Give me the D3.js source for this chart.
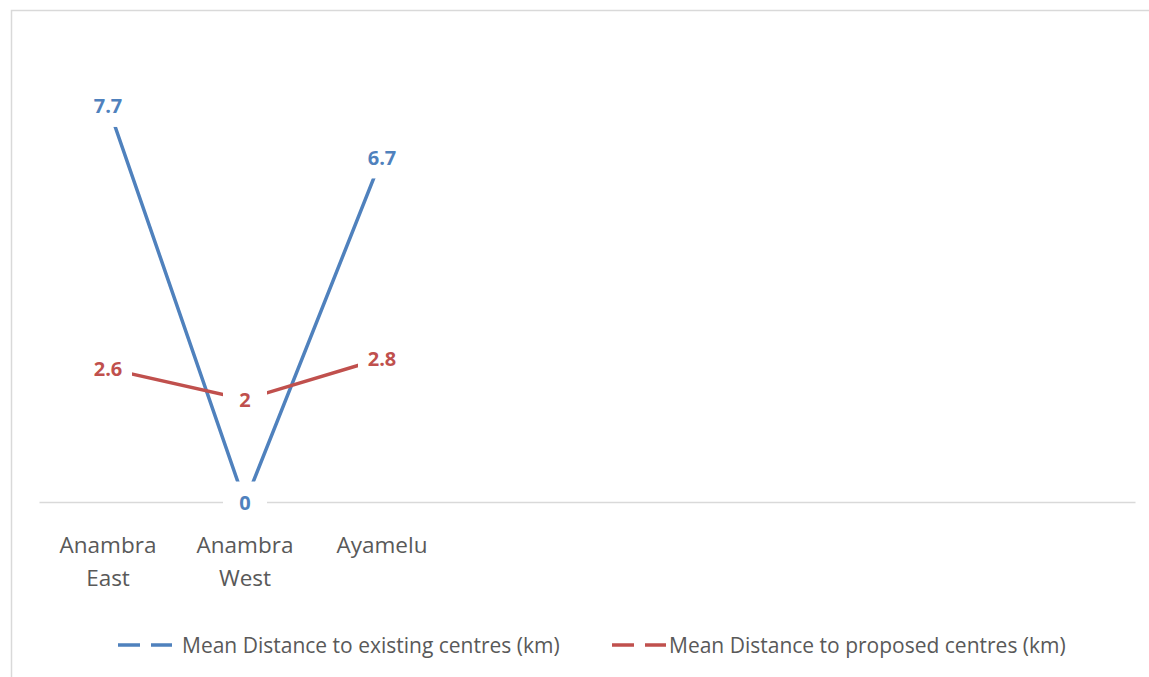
<!DOCTYPE html>
<html>
  <head>
    <meta charset="utf-8">
    <title>Mean distance line chart</title>
    <script src="https://d3js.org/d3.v7.min.js"></script>
    <style>
      body { margin: 0; background: #fff; }
      text { font-family: "Open Sans", sans-serif; }
    </style>
  </head>
  <body>
    <div id="chart"></div>
    <script type="text/javascript">
      // data
      var categories = ["Anambra East", "Anambra West", "Ayamelu", "", "", "", "", ""];
      var existing = [7.7, 0, 6.7];
      var proposed = [2.6, 2, 2.8];
      var seriesNames = ["Mean Distance to existing centres (km)", "Mean Distance to proposed centres (km)"];

      var width = 1149,
          height = 677;

      var svg = d3.select('#chart').append('svg')
          .attr('width', width)
          .attr('height', height);

      // chart frame (cut off at right and bottom like the source)
      svg.append('rect')
          .attr('x', 11.5).attr('y', 10.5)
          .attr('width', 1160).attr('height', 700)
          .attr('fill', 'none')
          .attr('stroke', '#d9d9d9')
          .attr('stroke-width', 1.5);

      var x = d3.scalePoint()
          .domain(d3.range(categories.length))
          .range([39.5, 1135.5])
          .padding(0.5);

      var y = d3.scaleLinear()
          .domain([0, 9])
          .range([502.5, 39]);

      // category axis
      svg.append('line')
          .attr('x1', 39.5).attr('x2', 1135.5)
          .attr('y1', 502.5).attr('y2', 502.5)
          .attr('stroke', '#d9d9d9')
          .attr('stroke-width', 1.5);

      svg.append('g').selectAll('text')
          .data(categories)
          .enter().append('text')
          .attr('text-anchor', 'middle')
          .attr('fill', '#595959')
          .style('font-size', '22.5px')
          .each(function(d, i) {
            var words = d.split(' ');
            var t = d3.select(this);
            words.forEach(function(w, j) {
              t.append('tspan')
                .attr('x', x(i))
                .attr('y', 553 + j * 33)
                .text(w);
            });
          });

      var line = d3.line()
          .x(function(d, i) { return x(i); })
          .y(function(d) { return y(d); });

      var series = [
        {values: existing, color: '#4f81bd'},
        {values: proposed, color: '#c0504d'}
      ];

      series.forEach(function(s) {
        svg.append('path')
            .datum(s.values)
            .attr('d', line)
            .attr('fill', 'none')
            .attr('stroke', s.color)
            .attr('stroke-width', 3.5);
      });

      // data labels centred on the points, white boxes hide the line beneath
      series.forEach(function(s) {
        var g = svg.append('g');
        s.values.forEach(function(v, i) {
          var lab = g.append('g').attr('transform', 'translate(' + x(i) + ',' + y(v) + ')');
          var txt = String(v);
          var w = Math.max(44, txt.length * 10 + 18);
          lab.append('rect')
              .attr('x', -w / 2).attr('y', -21)
              .attr('width', w).attr('height', 42)
              .attr('fill', '#fff');
          lab.append('text')
              .attr('text-anchor', 'middle')
              .attr('dy', '0.36em')
              .attr('fill', s.color)
              .style('font-size', '20px')
              .style('font-weight', 'bold')
              .text(txt);
        });
      });

      // legend
      var legend = svg.append('g');
      var legendX = [118, 612];
      var textX = [182, 669];
      series.forEach(function(s, i) {
        legend.append('line')
            .attr('x1', legendX[i]).attr('x2', legendX[i] + 54)
            .attr('y1', 645).attr('y2', 645)
            .attr('stroke', s.color)
            .attr('stroke-width', 3.5)
            .attr('stroke-dasharray', '22,11');
        legend.append('text')
            .attr('x', textX[i])
            .attr('y', 645)
            .attr('dy', '0.36em')
            .attr('fill', '#595959')
            .style('font-size', '21px')
            .text(seriesNames[i]);
      });
    </script>
  </body>
</html>
